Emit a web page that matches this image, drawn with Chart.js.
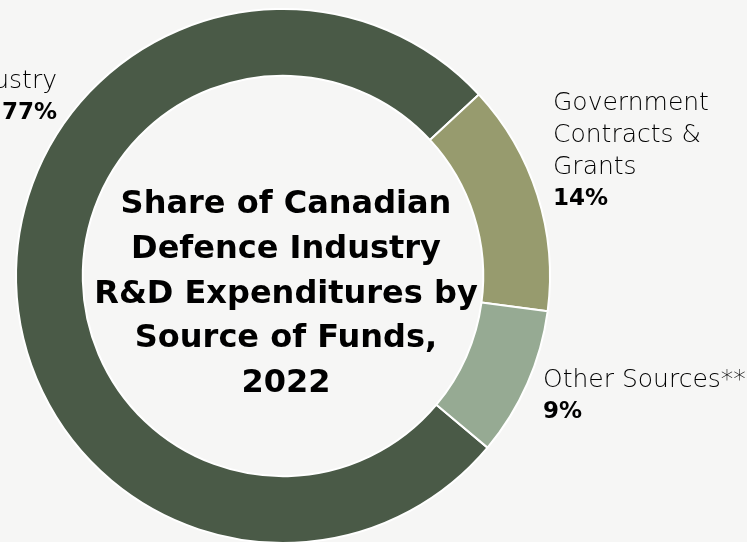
<!DOCTYPE html>
<html>
<head>
<meta charset="utf-8">
<script src="https://cdn.jsdelivr.net/npm/chart.js@4.4.1/dist/chart.umd.min.js"></script>
<style>
  html, body { margin: 0; padding: 0; background: #f6f6f5; overflow: hidden; }
  #wrap { position: relative; width: 747px; height: 552px; }
</style>
</head>
<body>
<div id="wrap"><canvas id="fundsChart"></canvas></div>
<script>
// R&D funding sources, 2022 (share of total, %)
const categories = ['Industry', 'Government Contracts & Grants', 'Other Sources**'];
const shares = [77, 14, 9];
const palette = ['#4a5a47', '#979b6e', '#96aa93'];
const titleLines = ['Share of Canadian', 'Defence Industry', 'R&D Expenditures by', 'Source of Funds,', '2022'];

// how each label is broken into lines (name lines, then the value)
const labelLines = [
    ['Industry'],
    ['Government', 'Contracts &', 'Grants'],
    ['Other Sources**']
];

const textFont = "'DejaVu Sans', sans-serif";

// where the outside labels sit, relative to the ring centre
const labelSpots = [
    { dx: -226, dy: -188, align: 'right' },
    { dx: 270, dy: -166, align: 'left' },
    { dx: 260, dy: 111, align: 'left' }
];

const centreText = {
    id: 'centreText',
    afterDraw(chart) {
        const arc = chart.getDatasetMeta(0).data[0];
        if (!arc) return;
        const ctx = chart.ctx;
        const cx = arc.x, cy = arc.y;
        ctx.save();
        ctx.fillStyle = '#000000';
        ctx.textBaseline = 'alphabetic';

        // title in the hole
        ctx.font = "bold 32px " + textFont;
        ctx.textAlign = 'center';
        titleLines.forEach((line, i) => {
            ctx.fillText(line, cx + 3, cy - 63 + i * 44.8);
        });

        // outside labels
        labelLines.forEach((lines, i) => {
            const spot = labelSpots[i];
            const x = cx + spot.dx;
            let y = cy + spot.dy;
            ctx.textAlign = spot.align;
            ctx.font = "300 25px " + textFont;
            lines.forEach(line => {
                ctx.fillText(line, x, y);
                y += 32;
            });
            ctx.font = "bold 23px " + textFont;
            ctx.fillText(shares[i] + '%', x, y - 1);
        });
        ctx.restore();
    }
};

const ctx = document.getElementById('fundsChart').getContext('2d');
new Chart(ctx, {
    type: 'doughnut',
    data: {
        labels: categories,
        datasets: [{
            data: shares,
            backgroundColor: palette,
            borderColor: '#ffffff',
            borderWidth: 2,
            hoverOffset: 0,
            offset: 0
        }]
    },
    options: {
        responsive: true,
        maintainAspectRatio: false,
        animation: false,
        cutout: '75%',
        rotation: 130,
        layout: { padding: { left: 15, right: 196, top: 8, bottom: 8 } },
        plugins: {
            legend: { display: false },
            tooltip: { enabled: false }
        }
    },
    plugins: [centreText]
});
</script>
</body>
</html>
